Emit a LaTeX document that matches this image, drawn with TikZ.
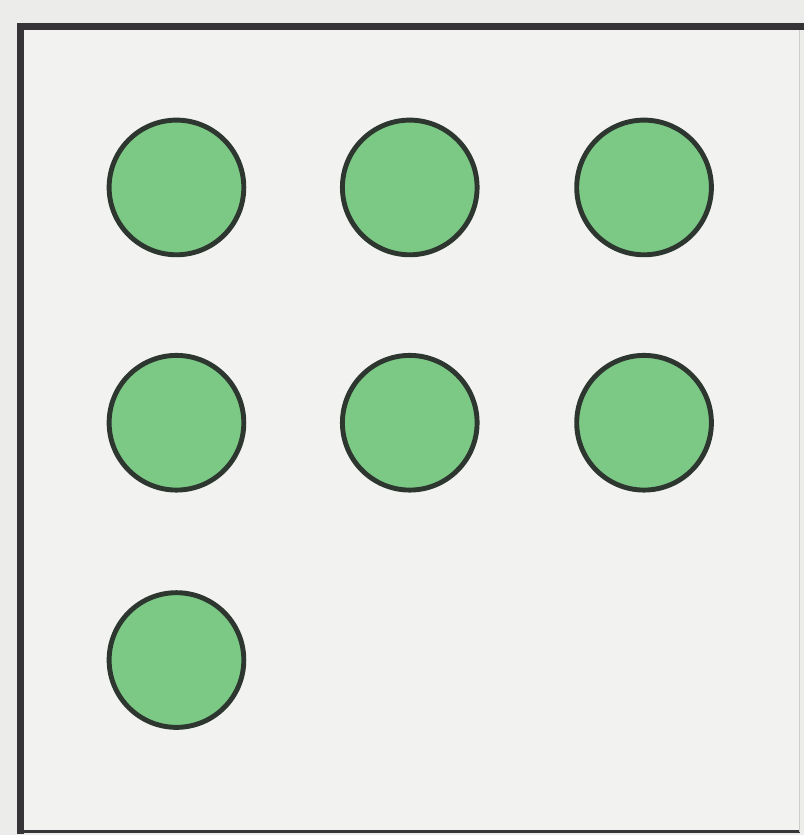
\documentclass[tikz,border=0pt]{standalone}
\definecolor{paper}{RGB}{236,236,234}
\definecolor{boxbg}{RGB}{242,242,241}
\definecolor{frameline}{RGB}{55,52,55}
\definecolor{dotline}{RGB}{45,55,48}
\definecolor{dotgreen}{RGB}{124,201,134}
\begin{document}
\begin{tikzpicture}[x=0.01cm,y=-0.01cm,
  dot/.style={circle,draw=dotline,fill=dotgreen,line width=1.4pt,
    minimum size=1.35cm,inner sep=0pt}]
  \fill[paper] (0,0) rectangle (806,837);
  \fill[boxbg] (21,27) rectangle (802,834);
  % frame
  \draw[frameline,line width=0.9pt] (21,834) -- (802,834);
  \draw[gray!40,line width=0.5pt] (802,27) -- (802,834);
  \draw[frameline,line width=2pt] (21,836) -- (21,27) -- (806,27);
  % dots
  \foreach \r/\y in {1/188,2/424}
    \foreach \c/\x in {1/177,2/411,3/646}
      \node[dot] (d\r\c) at (\x,\y) {};
  \node[dot] (d31) at (177,662) {};
\end{tikzpicture}
\end{document}
